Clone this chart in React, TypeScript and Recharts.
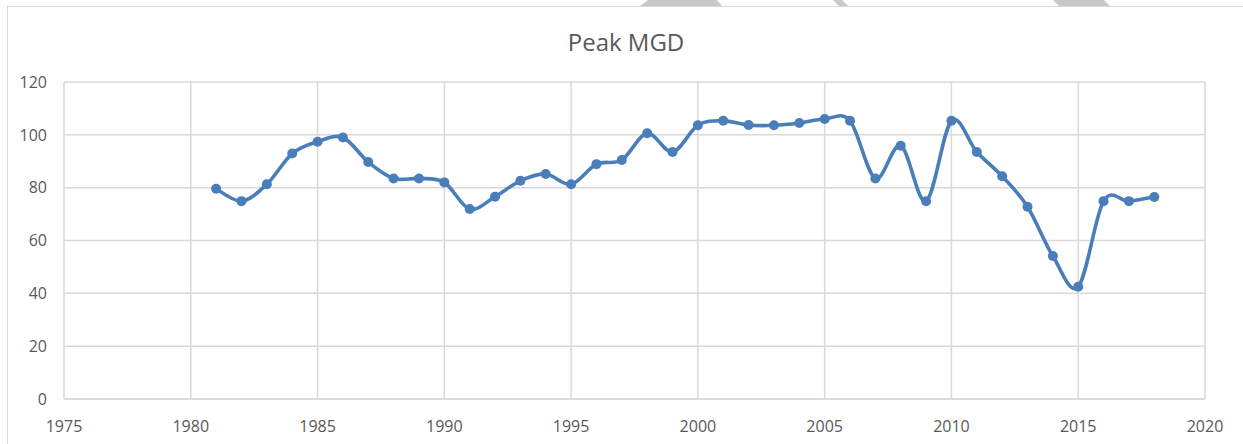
import React from 'react';
import { LineChart, Line, XAxis, YAxis, CartesianGrid } from 'recharts';

// Peak MGD by year
const years = [
  1981, 1982, 1983, 1984, 1985, 1986, 1987, 1988, 1989, 1990,
  1991, 1992, 1993, 1994, 1995, 1996, 1997, 1998, 1999, 2000,
  2001, 2002, 2003, 2004, 2005, 2006, 2007, 2008, 2009, 2010,
  2011, 2012, 2013, 2014, 2015, 2016, 2017, 2018,
];
const peakMgd = [
  79.6, 74.9, 81.3, 92.9, 97.4, 99.0, 89.7, 83.5, 83.5, 82.0,
  71.9, 76.6, 82.6, 85.2, 81.3, 88.9, 90.5, 100.6, 93.5, 103.6,
  105.3, 103.7, 103.6, 104.5, 106.0, 105.3, 83.5, 95.9, 74.9, 105.3,
  93.5, 84.3, 72.8, 54.1, 42.5, 74.9, 74.9, 76.5,
];
const xTicks = [1975, 1980, 1985, 1990, 1995, 2000, 2005, 2010, 2015, 2020];
const yTicks = [0, 20, 40, 60, 80, 100, 120];

const data = years.map((year, i) => ({ year, value: peakMgd[i] }));

const FONT = '"Open Sans", "Liberation Sans", sans-serif';
const TEXT = '#595959';
const GRID = '#d9d9d9';
const BLUE = '#4a7ebb';

// Excel-style smoothing: Catmull-Rom segments (control points at 1/6 of neighbour span)
function excelSmooth(context: any) {
  let pts: [number, number][] = [];
  return {
    areaStart() {},
    areaEnd() {},
    lineStart() {
      pts = [];
    },
    point(x: number, y: number) {
      pts.push([+x, +y]);
    },
    lineEnd() {
      if (!pts.length) return;
      context.moveTo(pts[0][0], pts[0][1]);
      for (let i = 0; i < pts.length - 1; i++) {
        const p0 = pts[Math.max(0, i - 1)];
        const p1 = pts[i];
        const p2 = pts[i + 1];
        const p3 = pts[Math.min(pts.length - 1, i + 2)];
        context.bezierCurveTo(
          p1[0] + (p2[0] - p0[0]) / 6,
          p1[1] + (p2[1] - p0[1]) / 6,
          p2[0] - (p3[0] - p1[0]) / 6,
          p2[1] - (p3[1] - p1[1]) / 6,
          p2[0],
          p2[1],
        );
      }
    },
  };
}

export default function App() {
  return (
    <div style={{ position: 'absolute', left: 0, top: 0, width: 1243, height: 444, overflow: 'hidden', background: '#fff' }}>
      {/* bits of the surrounding document */}
      <svg width={1243} height={10} style={{ position: 'absolute', left: 0, top: 0 }}>
        <polygon points="648,0 717,0 722,6 640,6" fill="#c9c9c9" />
        <polygon points="833,0 842,0 848,6 839,6" fill="#c9c9c9" />
        <polygon points="1053,0 1104,0 1110,6 1059,6" fill="#c9c9c9" />
      </svg>
      <div
        style={{
          position: 'absolute',
          left: 7,
          top: 6,
          width: 1260,
          height: 460,
          border: `1.5px solid ${GRID}`,
          boxSizing: 'border-box',
        }}
      />
      <div
        style={{
          position: 'absolute',
          left: 7,
          top: 25,
          width: 1238,
          textAlign: 'center',
          fontFamily: FONT,
          fontSize: 24,
          color: TEXT,
        }}
      >
        Peak MGD
      </div>
      <div style={{ position: 'absolute', left: 0, top: 0 }}>
        <LineChart width={1243} height={444} data={data} margin={{ top: 82, right: 38, left: 14, bottom: 15 }}>
          <CartesianGrid stroke={GRID} strokeWidth={1.5} />
          <XAxis
            dataKey="year"
            type="number"
            domain={[1975, 2020]}
            ticks={xTicks}
            height={30}
            axisLine={{ stroke: GRID, strokeWidth: 1.5 }}
            tickLine={false}
            tickSize={0}
            tickMargin={22}
            tick={{ fill: TEXT, fontSize: 16, fontFamily: FONT }}
          />
          <YAxis
            type="number"
            domain={[0, 120]}
            ticks={yTicks}
            width={50}
            axisLine={false}
            tickLine={false}
            tickSize={0}
            tickMargin={17}
            tick={{ fill: TEXT, fontSize: 16, fontFamily: FONT }}
          />
          <Line
            dataKey="value"
            type={excelSmooth as any}
            stroke={BLUE}
            strokeWidth={3.6}
            strokeLinecap="round"
            dot={{ r: 5, fill: BLUE, stroke: BLUE, strokeWidth: 0 }}
            isAnimationActive={false}
          />
        </LineChart>
      </div>
    </div>
  );
}
